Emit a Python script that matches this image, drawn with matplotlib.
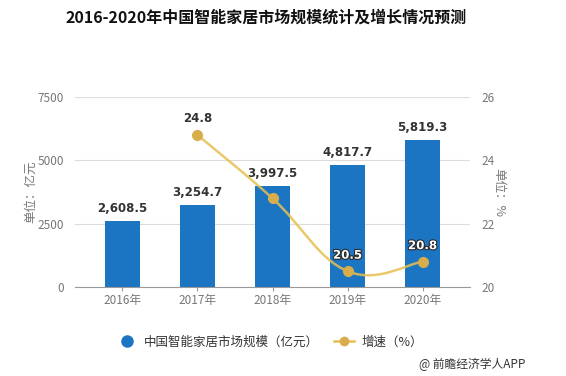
import matplotlib
matplotlib.use("Agg")
import matplotlib.pyplot as plt
import matplotlib.patheffects as pe
from matplotlib.path import Path
from matplotlib.patches import PathPatch
from matplotlib.lines import Line2D
import numpy as np

plt.rcParams["font.family"] = ["Noto Sans CJK SC", "DejaVu Sans"]

# ---------------------------------------------------------------
# Data
# ---------------------------------------------------------------
years = ["2016年", "2017年", "2018年", "2019年", "2020年"]
market_size = [2608.5, 3254.7, 3997.5, 4817.7, 5819.3]
growth_idx = [1, 2, 3, 4]
growth_rate = [24.8, 22.8, 20.5, 20.8]
growth_labels = ["24.8", "", "20.5", "20.8"]

bar_color = "#1c75c2"
line_color = "#e6c04f"
marker_color = "#d8ae4c"
grey = "#777777"

fig = plt.figure(figsize=(5.66, 3.76), dpi=100)
ax = fig.add_axes([75 / 566, 1 - 287 / 376, 395 / 566, 190 / 376])
ax2 = ax.twinx()

x = np.arange(len(years))
ax.bar(x, market_size, width=35 / 75, color=bar_color, zorder=2)
for xi, v in zip(x, market_size):
    ax.text(xi, v + 230, f"{v:,.1f}", ha="center", va="bottom",
            fontsize=8.5, fontweight="bold", color="#333333",
            family="DejaVu Sans")

ax.set_xlim(-0.633, 4.633)
ax.set_ylim(0, 7500)
ax.set_yticks([0, 2500, 5000, 7500])
ax.set_xticks(x)
ax.set_xticklabels(years)
ax.grid(axis="y", color="#dcdcdc", linewidth=0.8, zorder=0)
ax.set_axisbelow(True)
for s in ["top", "right", "left"]:
    ax.spines[s].set_visible(False)
ax.spines["bottom"].set_color("#999999")
ax.tick_params(axis="y", length=0, labelsize=8.5, labelcolor=grey, pad=8)
ax.tick_params(axis="x", length=3, color="#999999", labelsize=8.5,
               labelcolor=grey, pad=2)
ax.set_ylabel("单位：亿元", color=grey, fontsize=9, labelpad=0)

# ---------------------------------------------------------------
# Growth line (smoothed with cubic Bezier through the points)
# ---------------------------------------------------------------
ax2.set_ylim(20, 26)
ax2.set_yticks([20, 22, 24, 26])
for s in ["top", "right", "left", "bottom"]:
    ax2.spines[s].set_visible(False)
ax2.tick_params(axis="y", length=0, labelsize=8.5, labelcolor=grey, pad=8)
ax2.set_ylabel("单位：%", color=grey, fontsize=9, rotation=-90, labelpad=8)

pts = np.column_stack([np.array(growth_idx, float), np.array(growth_rate, float)])
verts = [tuple(pts[0])]
codes = [Path.MOVETO]
k = 0.2
for i in range(len(pts) - 1):
    p0 = pts[i - 1] if i > 0 else pts[i]
    p1, p2 = pts[i], pts[i + 1]
    p3 = pts[i + 2] if i + 2 < len(pts) else pts[i + 1]
    c1 = p1 + (p2 - p0) * k
    c2 = p2 - (p3 - p1) * k
    verts += [tuple(c1), tuple(c2), tuple(p2)]
    codes += [Path.CURVE4] * 3
ax2.add_patch(PathPatch(Path(verts, codes), facecolor="none",
                        edgecolor=line_color, linewidth=1.8, alpha=0.85,
                        zorder=3))
ax2.plot(growth_idx, growth_rate, linestyle="none", marker="o",
         markersize=7, color=marker_color, zorder=4)
for xi, v, lab in zip(growth_idx, growth_rate, growth_labels):
    if not lab:
        continue
    if xi == 1:
        # label on the white background reads as plain dark text
        ax2.text(xi, v + 0.3, lab, ha="center", va="bottom", fontsize=8.5,
                 fontweight="bold", color="#333333", family="DejaVu Sans",
                 zorder=5)
    else:
        ax2.text(xi, v + 0.3, lab, ha="center", va="bottom", fontsize=8.5,
                 fontweight="bold", color="white", family="DejaVu Sans",
                 path_effects=[pe.withStroke(linewidth=1.6, foreground="#2a2a2a")],
                 zorder=5)

# ---------------------------------------------------------------
# Title, legend, source
# ---------------------------------------------------------------
fig.text(266 / 566, 1 - 18 / 376, "2016-2020年中国智能家居市场规模统计及增长情况预测",
         ha="center", va="center", fontsize=11.5, fontweight="bold",
         color="#111111")

handles = [
    Line2D([], [], linestyle="none", marker="o", markersize=8,
           color=bar_color),
    Line2D([], [], color=line_color, linewidth=1.8, marker="o",
           markersize=6, markerfacecolor=marker_color,
           markeredgecolor=marker_color),
]
fig.legend(handles, ["中国智能家居市场规模（亿元）", "增速（%）"],
           loc="center", bbox_to_anchor=(270 / 566, 1 - 342 / 376),
           ncol=2, frameon=False, fontsize=9, labelcolor="#333333",
           handlelength=1.6, columnspacing=1.2, handletextpad=0.6)

fig.text(525 / 566, 1 - 364 / 376, "@ 前瞻经济学人APP", ha="right",
         va="center", fontsize=8.5, color="#333333")

fig.savefig("out.png", dpi=100)
